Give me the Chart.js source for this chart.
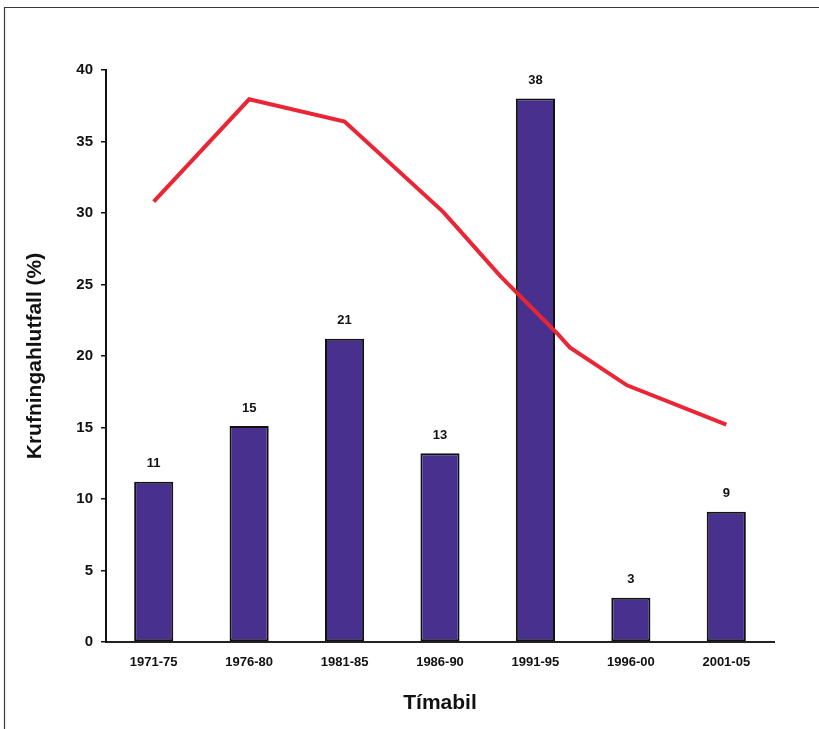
<!DOCTYPE html>
<html>
<head>
<meta charset="utf-8">
<script src="https://cdn.jsdelivr.net/npm/chart.js@4.4.1/dist/chart.umd.min.js"></script>
<style>
  html, body { margin: 0; padding: 0; background: #fff; }
  #wrap { width: 819px; height: 729px; }
</style>
</head>
<body>
<div id="wrap"><canvas id="c" width="819" height="729"></canvas></div>
<script>
// Five-year periods on the category axis
const periods = ['1971-75', '1976-80', '1981-85', '1986-90', '1991-95', '1996-00', '2001-05'];
// Bar heights per period
const barValues = [11.2, 15.1, 21.2, 13.2, 38.0, 3.1, 9.1];
// Trend line: positions along the period axis (period index) and percentages
const trendPos = [0, 1, 2, 3.03, 3.15, 3.63, 4.24, 4.36, 4.96, 6.0];
const trendVal = [30.8, 37.95, 36.4, 30.1, 29.2, 25.6, 21.5, 20.6, 17.95, 15.2];
// Y axis range and step
const yMin = 0, yMax = 40, yStep = 5;

const trendPoints = trendPos.map((p, i) => ({ x: p, y: trendVal[i] }));

const FONT = "'Liberation Sans', Arial, Helvetica, sans-serif";

// Outer frame lines and white background
const framePlugin = {
  id: 'frame',
  beforeDraw(chart) {
    const ctx = chart.ctx;
    ctx.save();
    ctx.fillStyle = '#ffffff';
    ctx.fillRect(0, 0, chart.width, chart.height);
    ctx.strokeStyle = '#3a3a3a';
    ctx.lineWidth = 1.2;
    ctx.beginPath();
    ctx.moveTo(4.5, chart.height);
    ctx.lineTo(4.5, 7.5);
    ctx.lineTo(chart.width, 7.5);
    ctx.stroke();
    ctx.restore();
  }
};

// Value labels above each bar
const barLabelPlugin = {
  id: 'barLabels',
  afterDatasetsDraw(chart) {
    const meta = chart.getDatasetMeta(0);
    const ctx = chart.ctx;
    ctx.save();
    ctx.font = "bold 13px " + FONT;
    ctx.fillStyle = '#111';
    ctx.textAlign = 'center';
    ctx.textBaseline = 'middle';
    meta.data.forEach((bar, i) => {
      ctx.fillText(Math.round(barValues[i]).toString(), bar.x, bar.y - 18);
    });
    ctx.restore();
  }
};

new Chart(document.getElementById('c'), {
  type: 'bar',
  data: {
    labels: periods,
    datasets: [
      {
        type: 'bar',
        data: barValues,
        xAxisID: 'x',
        yAxisID: 'y',
        backgroundColor: '#48308f',
        borderColor: '#111',
        borderWidth: 2,
        borderSkipped: false,
        grouped: false,
        barPercentage: 0.41,
        categoryPercentage: 1.0,
        order: 1
      },
      {
        type: 'line',
        data: trendPoints,
        xAxisID: 'xl',
        yAxisID: 'y',
        borderColor: '#ea2535',
        borderWidth: 4,
        pointRadius: 0,
        tension: 0,
        fill: false,
        order: 0
      }
    ]
  },
  options: {
    responsive: false,
    animation: false,
    devicePixelRatio: 1,
    layout: { padding: { top: 70, right: 45, left: 0, bottom: 0 } },
    plugins: {
      legend: { display: false },
      tooltip: { enabled: false }
    },
    scales: {
      x: {
        type: 'category',
        offset: true,
        grid: { display: false, drawTicks: false },
        border: { display: true, color: '#222', width: 2 },
        ticks: {
          color: '#111',
          padding: 13,
          font: { family: FONT, size: 13, weight: 'bold' },
          maxRotation: 0
        },
        title: {
          display: true,
          text: 'Tímabil',
          color: '#111',
          font: { family: FONT, size: 21, weight: 'bold' },
          padding: { top: 0, bottom: 13 }
        },
        afterFit(scale) { scale.height = 87; }
      },
      xl: {
        type: 'linear',
        display: false,
        offset: false,
        min: -0.5,
        max: 6.5
      },
      y: {
        type: 'linear',
        min: yMin,
        max: yMax,
        grid: { display: true, drawOnChartArea: false, drawTicks: true, tickLength: 5, color: '#111', lineWidth: 1.5 },
        border: { display: true, color: '#111', width: 2 },
        ticks: {
          stepSize: yStep,
          color: '#111',
          padding: 8,
          font: { family: FONT, size: 15, weight: 'bold' }
        },
        title: {
          display: true,
          text: 'Krufningahlutfall (%)',
          color: '#111',
          font: { family: FONT, size: 21, weight: 'bold' },
          padding: { top: 23, bottom: 0 }
        },
        afterFit(scale) { scale.width = 106; }
      }
    }
  },
  plugins: [framePlugin, barLabelPlugin]
});
</script>
</body>
</html>
